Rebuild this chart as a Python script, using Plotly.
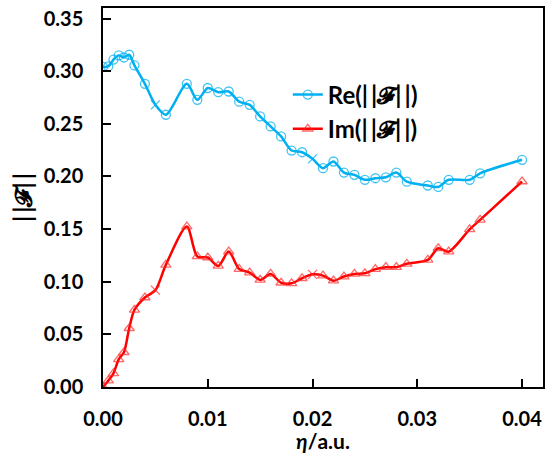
import plotly.graph_objects as go

eta = [0.0, 0.0005, 0.001, 0.0015, 0.002, 0.0025, 0.003, 0.004, 0.005, 0.006,
       0.008, 0.009, 0.010, 0.011, 0.012, 0.013, 0.014, 0.015, 0.016, 0.017,
       0.018, 0.019, 0.020, 0.021, 0.022, 0.023, 0.024, 0.025, 0.026, 0.027,
       0.028, 0.029, 0.031, 0.032, 0.033, 0.035, 0.036, 0.040]

re_vals = [0.304, 0.3045, 0.311, 0.315, 0.313, 0.3156, 0.3055, 0.288, 0.268, 0.2586,
           0.288, 0.2728, 0.284, 0.280, 0.2807, 0.271, 0.268, 0.257, 0.2475, 0.238,
           0.2246, 0.223, 0.2167, 0.2079, 0.2142, 0.2037, 0.2015, 0.1968, 0.1983, 0.1992,
           0.2037, 0.195, 0.1914, 0.190, 0.1968, 0.1968, 0.203, 0.2158]

im_vals = [0.000, 0.006, 0.013, 0.0263, 0.033, 0.0558, 0.0732, 0.085, 0.092, 0.116,
           0.1524, 0.124, 0.123, 0.115, 0.1286, 0.112, 0.1087, 0.1017, 0.1074, 0.099,
           0.0985, 0.1033, 0.107, 0.1058, 0.101, 0.1049, 0.1074, 0.108, 0.112, 0.1138,
           0.1138, 0.117, 0.1207, 0.1318, 0.1286, 0.1498, 0.1587, 0.1952]

x_ticks = [0.0, 0.01, 0.02, 0.03, 0.04]
y_ticks = [0.0, 0.05, 0.10, 0.15, 0.20, 0.25, 0.30, 0.35]

cross_pts = {0.005, 0.020}
FONT = "Lato"
TS = "\u2009"

def symbols(base):
    return [("x-thin-open" if round(e, 4) in cross_pts else base) for e in eta]

fig = go.Figure()
fig.add_trace(go.Scatter(
    x=eta, y=re_vals, mode="lines+markers", name=f"Re(|{TS}|𝓕|{TS}|)",
    line=dict(color="#00B0F0", width=2.5, shape="spline", smoothing=0.8),
    marker=dict(symbol=symbols("circle-open"), size=9,
                color="rgba(0,176,240,0.75)", line=dict(width=1.3, color="rgba(0,176,240,0.75)")),
))
fig.add_trace(go.Scatter(
    x=eta, y=im_vals, mode="lines+markers", name=f"Im(|{TS}|𝓕|{TS}|)",
    line=dict(color="#FF0000", width=2.5, shape="spline", smoothing=0.8),
    marker=dict(symbol=symbols("triangle-up-open"), size=9,
                color="rgba(255,40,40,0.7)", line=dict(width=1.3, color="rgba(255,40,40,0.7)")),
))

fig.update_layout(
    width=547, height=453,
    margin=dict(l=103, r=4, t=8, b=66),
    paper_bgcolor="white", plot_bgcolor="white",
    font=dict(family=FONT, color="black"),
    showlegend=True,
    legend=dict(x=0.42, y=0.83, xanchor="left", yanchor="top",
                bgcolor="rgba(0,0,0,0)", itemwidth=30, tracegroupgap=0,
                font=dict(family=FONT, size=24, color="black", weight="bold")),
    xaxis=dict(range=[0, 0.042], tickvals=x_ticks, ticktext=[f"{v:.2f}" for v in x_ticks],
               ticks="inside", ticklen=8, tickwidth=1.5, tickcolor="black",
               showline=True, linecolor="black", linewidth=1.5, mirror=True,
               showgrid=False, zeroline=False, automargin=False,
               tickfont=dict(family=FONT, size=20, weight="bold"),
               ticklabelstandoff=13,
               title=dict(text="<b><i>η</i>/a.u.</b>", font=dict(family=FONT, size=21), standoff=8)),
    yaxis=dict(range=[0, 0.36], tickvals=y_ticks, ticktext=[f"{v:.2f}" for v in y_ticks],
               ticks="inside", ticklen=8, tickwidth=1.5, tickcolor="black",
               showline=True, linecolor="black", linewidth=1.5, mirror=True,
               showgrid=False, zeroline=False, automargin=False,
               tickfont=dict(family=FONT, size=20, weight="bold"),
               ticklabelstandoff=14,
               title=dict(text=f"<b>|{TS}|𝓕|{TS}|</b>", font=dict(family=FONT, size=24), standoff=4)),
)

fig.write_html("out.html")
